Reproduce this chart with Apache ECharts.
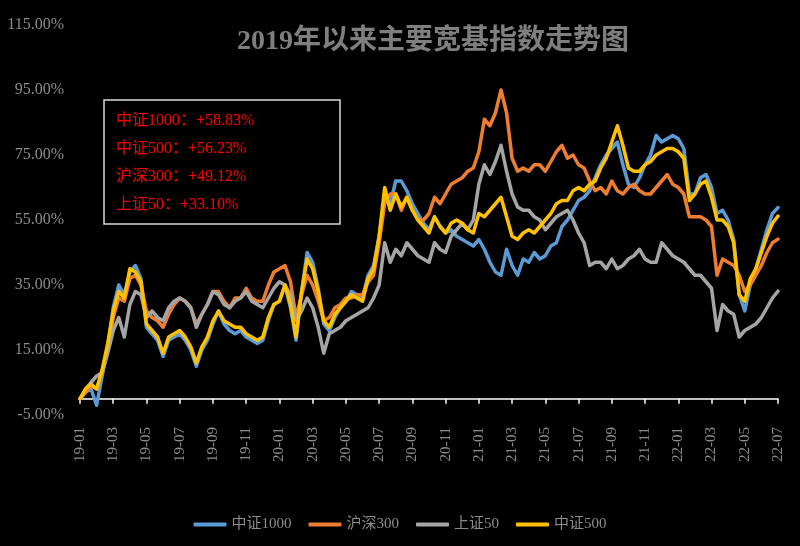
<!DOCTYPE html>
<html>
<head>
<meta charset="utf-8">
<script src="https://cdn.jsdelivr.net/npm/echarts@6/dist/echarts.min.js"></script>
<style>
html,body{margin:0;padding:0;background:#000;}
#chart{width:800px;height:546px;}
</style>
</head>
<body>
<div id="chart"></div>
<script>
// ---- data (cumulative return since 2019-01, %) ----
const seriesNames = ['中证1000', '沪深300', '上证50', '中证500'];
const xTickLabels = ['19-01','19-03','19-05','19-07','19-09','19-11','20-01','20-03','20-05','20-07','20-09','20-11','21-01','21-03','21-05','21-07','21-09','21-11','22-01','22-03','22-05','22-07'];
const pointsPerTick = 6;
const yTickValues = [-5, 15, 35, 55, 75, 95, 115];
const boxLabels = ['中证1000：+58.83%', '中证500：+56.23%', '沪深300：+49.12%', '上证50：+33.10%'];

const csi1000 = [
  0,2,3,-2,7,16,28,35,32,39,
  41,37,22,20,18,13,18,19,20,18,
  15,10,15,18,23,27,23,21,20,21,
  19,18,17,18,24,29,30,35,28,18,
  33,45,42,34,23,21,25,28,30,33,
  32,31,38,41,50,62,60,67,67,64,
  60,57,54,52,56,53,51,52,50,49,
  48,47,49,46,42,39,38,46,41,38,
  43,42,45,43,44,47,48,53,55,58,
  61,62,64,68,72,75,77,79,72,66,
  65,68,72,75,81,79,80,81,80,77,
  63,63,68,69,65,57,58,55,49,32,
  27,35,40,46,52,57,58.83
];
const hs300 = [
  0,2,4,3,8,15,25,31,30,37,
  38,35,27,25,24,22,26,29,31,30,
  28,23,26,29,33,33,30,28,31,31,
  34,31,30,30,35,39,40,41,36,25,
  32,38,35,30,24,25,28,29,31,31,
  32,32,36,38,48,60,63,63,58,62,
  58,55,55,57,62,60,63,66,67,68,
  70,71,76,86,84,88,95,88,74,70,
  71,70,72,72,70,73,76,78,74,75,
  72,71,67,64,65,63,67,64,63,65,
  66,64,63,63,65,67,69,66,65,63,
  56,56,56,55,53,38,43,42,41,38,
  33,35,38,41,45,48,49.12
];
const sse50 = [
  0,3,5,7,8,14,21,25,19,29,
  33,32,25,27,25,24,28,30,31,30,
  28,22,26,29,33,32,29,28,30,31,
  33,30,29,28,31,34,36,35,32,24,
  27,31,28,22,14,20,21,22,24,25,
  26,27,28,31,35,48,42,46,44,48,
  46,44,43,42,48,46,45,50,52,54,
  52,55,66,72,69,73,78,70,63,59,
  58,58,56,55,52,54,56,57,58,55,
  51,48,41,42,42,40,43,40,41,43,
  44,46,43,42,42,48,46,44,43,42,
  40,38,38,36,34,21,29,27,26,19,
  21,22,23,25,28,31,33.10
];
const csi500 = [
  0,3,4.5,3,9,17,27,33,31,40,
  39,36,23,21,19,14,19,20,21,19,
  16,11,16,19,24,27,24,23,22,22,
  20,19,18,19,25,29,30,35,29,19,
  33,43,40,33,24,22,26,28,30,32,
  31,30,37,40,50,65,58,63,59,62,
  58,55,53,51,56,53,51,54,55,54,
  52,51,57,56,58,60,62,56,50,49,
  51,52,51,53,55,57,60,61,61,64,
  65,64,66,67,71,74,79,84,78,71,
  70,70,72,73,75,76,77,77,76,74,
  61,63,66,67,62,55,55,53,48,32,
  30,37,40,45,50,54,56.23
];

const colors = ['#5b9bd5', '#ed7d31', '#a5a5a5', '#ffc000'];
const seriesData = [csi1000, hs300, sse50, csi500];
const serifFont = "'Liberation Serif', 'Noto Sans CJK SC', serif";

const chart = echarts.init(document.getElementById('chart'), null, {renderer: 'canvas'});

const graphics = [{
  type: 'rect',
  shape: {x: 104, y: 100, width: 236, height: 124},
  style: {fill: 'none', stroke: '#d9d9d9', lineWidth: 1.5}
}];
boxLabels.forEach((t, i) => {
  graphics.push({
    type: 'text',
    style: {
      text: t, x: 116, y: 121 + i * 28,
      fill: '#ff0000', font: '16px ' + serifFont,
      verticalAlign: 'middle'
    }
  });
});

chart.setOption({
  backgroundColor: '#000000',
  animation: false,
  title: {
    text: '2019年以来主要宽基指数走势图',
    left: 428, top: 23, textAlign: 'center',
    textStyle: {color: '#7f7f7f', fontSize: 28, fontWeight: 'bold', fontFamily: serifFont}
  },
  grid: {left: 80, right: 22, top: 25, bottom: 131, containLabel: false},
  legend: {
    data: seriesNames,
    top: 512, left: 'center',
    icon: 'roundRect',
    itemWidth: 33, itemHeight: 4, itemGap: 17,
    textStyle: {color: '#8c8c8c', fontSize: 15, fontFamily: serifFont}
  },
  xAxis: {
    type: 'category',
    boundaryGap: false,
    data: csi1000.map((_, i) => i),
    axisLine: {show: true, lineStyle: {color: '#ffffff', width: 1.5}},
    axisTick: {show: true, interval: pointsPerTick - 1, length: 5, lineStyle: {color: '#ffffff', width: 1.5}},
    axisLabel: {
      interval: pointsPerTick - 1, rotate: 90, margin: 12,
      color: '#8c8c8c', fontSize: 15, fontFamily: serifFont,
      formatter: (v, idx) => xTickLabels[Math.round(idx / pointsPerTick)]
    },
    splitLine: {show: false}
  },
  yAxis: {
    type: 'value',
    min: -5, max: 115,
    axisLine: {show: false},
    axisTick: {show: false},
    splitLine: {show: false},
    axisLabel: {
      customValues: yTickValues,
      margin: 16,
      color: '#8c8c8c', fontSize: 16, fontFamily: serifFont,
      formatter: v => v.toFixed(2) + '%'
    }
  },
  series: seriesNames.map((n, i) => ({
    name: n,
    type: 'line',
    data: seriesData[i],
    symbol: 'none',
    showSymbol: false,
    smooth: false,
    lineStyle: {color: colors[i], width: 3.5, cap: 'round', join: 'round'},
    itemStyle: {color: colors[i]}
  })),
  graphic: graphics
});
</script>
</body>
</html>
